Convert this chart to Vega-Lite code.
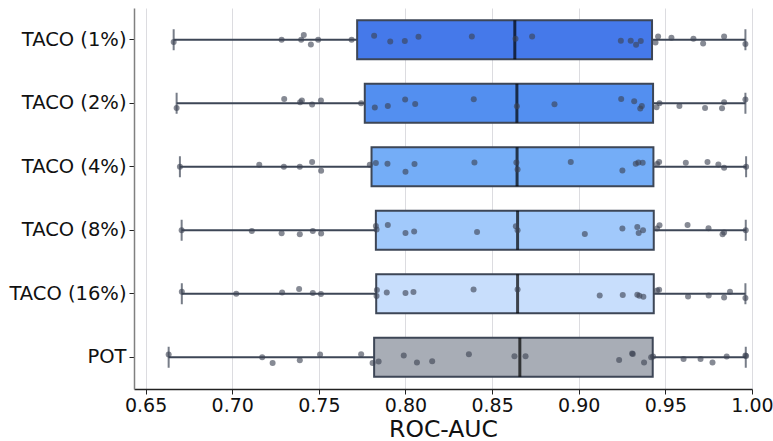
{
  "$schema": "https://vega.github.io/schema/vega-lite/v6.json",
  "width": 618,
  "height": 381,
  "autosize": {"type": "none"},
  "padding": {"left": 134, "top": 8, "right": 21, "bottom": 52},
  "background": "white",
  "config": {
    "view": {"stroke": null},
    "font": "DejaVu Sans"
  },
  "datasets": {
    "stats": [
      {"g": "TACO (1%)", "min": 0.6662, "q1": 0.7721, "med": 0.8631, "q3": 0.9423, "max": 0.9962},
      {"g": "TACO (2%)", "min": 0.6679, "q1": 0.7765, "med": 0.8643, "q3": 0.9429, "max": 0.9962},
      {"g": "TACO (4%)", "min": 0.6698, "q1": 0.7804, "med": 0.8644, "q3": 0.9431, "max": 0.9966},
      {"g": "TACO (8%)", "min": 0.6708, "q1": 0.7829, "med": 0.8647, "q3": 0.9433, "max": 0.9964},
      {"g": "TACO (16%)", "min": 0.6709, "q1": 0.7831, "med": 0.8647, "q3": 0.9433, "max": 0.9962},
      {"g": "POT", "min": 0.6633, "q1": 0.7819, "med": 0.8660, "q3": 0.9427, "max": 0.9964}
    ],
    "points": [
      {"g": "TACO (1%)", "v": 0.6662, "j": 2.3},
      {"g": "TACO (1%)", "v": 0.7285, "j": 0},
      {"g": "TACO (1%)", "v": 0.7398, "j": 0},
      {"g": "TACO (1%)", "v": 0.7413, "j": -4.7},
      {"g": "TACO (1%)", "v": 0.7454, "j": 4.7},
      {"g": "TACO (1%)", "v": 0.7496, "j": 0},
      {"g": "TACO (1%)", "v": 0.7689, "j": 0},
      {"g": "TACO (1%)", "v": 0.7819, "j": -4},
      {"g": "TACO (1%)", "v": 0.7912, "j": 1.7},
      {"g": "TACO (1%)", "v": 0.7996, "j": 1.3},
      {"g": "TACO (1%)", "v": 0.8075, "j": -3},
      {"g": "TACO (1%)", "v": 0.8383, "j": -3.3},
      {"g": "TACO (1%)", "v": 0.8635, "j": -1},
      {"g": "TACO (1%)", "v": 0.8731, "j": -3.3},
      {"g": "TACO (1%)", "v": 0.9243, "j": 1},
      {"g": "TACO (1%)", "v": 0.9300, "j": 1},
      {"g": "TACO (1%)", "v": 0.9331, "j": 5},
      {"g": "TACO (1%)", "v": 0.9358, "j": 1.3},
      {"g": "TACO (1%)", "v": 0.9443, "j": 2.7},
      {"g": "TACO (1%)", "v": 0.9458, "j": -3.3},
      {"g": "TACO (1%)", "v": 0.9535, "j": -2},
      {"g": "TACO (1%)", "v": 0.9662, "j": -1},
      {"g": "TACO (1%)", "v": 0.9718, "j": 3.7},
      {"g": "TACO (1%)", "v": 0.9839, "j": -3.3},
      {"g": "TACO (1%)", "v": 0.9962, "j": 4.3},

      {"g": "TACO (2%)", "v": 0.6679, "j": 4.7},
      {"g": "TACO (2%)", "v": 0.7300, "j": -4.3},
      {"g": "TACO (2%)", "v": 0.7392, "j": -1},
      {"g": "TACO (2%)", "v": 0.7402, "j": -2.7},
      {"g": "TACO (2%)", "v": 0.7461, "j": 1.3},
      {"g": "TACO (2%)", "v": 0.7512, "j": -2.7},
      {"g": "TACO (2%)", "v": 0.7744, "j": 0},
      {"g": "TACO (2%)", "v": 0.7823, "j": 4.3},
      {"g": "TACO (2%)", "v": 0.7898, "j": 2.7},
      {"g": "TACO (2%)", "v": 0.7998, "j": -3.7},
      {"g": "TACO (2%)", "v": 0.8056, "j": 0.7},
      {"g": "TACO (2%)", "v": 0.8394, "j": -4},
      {"g": "TACO (2%)", "v": 0.8643, "j": 3},
      {"g": "TACO (2%)", "v": 0.8860, "j": 1},
      {"g": "TACO (2%)", "v": 0.9245, "j": -4.3},
      {"g": "TACO (2%)", "v": 0.9320, "j": -2},
      {"g": "TACO (2%)", "v": 0.9355, "j": 5.3},
      {"g": "TACO (2%)", "v": 0.9364, "j": 2.7},
      {"g": "TACO (2%)", "v": 0.9449, "j": 4},
      {"g": "TACO (2%)", "v": 0.9466, "j": 0},
      {"g": "TACO (2%)", "v": 0.9581, "j": 2.7},
      {"g": "TACO (2%)", "v": 0.9729, "j": 4.7},
      {"g": "TACO (2%)", "v": 0.9827, "j": 5},
      {"g": "TACO (2%)", "v": 0.9839, "j": -1},
      {"g": "TACO (2%)", "v": 0.9962, "j": -3.7},

      {"g": "TACO (4%)", "v": 0.6698, "j": 0},
      {"g": "TACO (4%)", "v": 0.7156, "j": -2},
      {"g": "TACO (4%)", "v": 0.7298, "j": 0},
      {"g": "TACO (4%)", "v": 0.7390, "j": 0},
      {"g": "TACO (4%)", "v": 0.7461, "j": -4.7},
      {"g": "TACO (4%)", "v": 0.7513, "j": 4},
      {"g": "TACO (4%)", "v": 0.7794, "j": -2},
      {"g": "TACO (4%)", "v": 0.7829, "j": -3.7},
      {"g": "TACO (4%)", "v": 0.7896, "j": -3},
      {"g": "TACO (4%)", "v": 0.8000, "j": 5},
      {"g": "TACO (4%)", "v": 0.8052, "j": -2.7},
      {"g": "TACO (4%)", "v": 0.8398, "j": -4.3},
      {"g": "TACO (4%)", "v": 0.8640, "j": -4.3},
      {"g": "TACO (4%)", "v": 0.8647, "j": 2.7},
      {"g": "TACO (4%)", "v": 0.8954, "j": -4.7},
      {"g": "TACO (4%)", "v": 0.9252, "j": 3.7},
      {"g": "TACO (4%)", "v": 0.9329, "j": -3},
      {"g": "TACO (4%)", "v": 0.9344, "j": -4.3},
      {"g": "TACO (4%)", "v": 0.9369, "j": -4},
      {"g": "TACO (4%)", "v": 0.9452, "j": -2.7},
      {"g": "TACO (4%)", "v": 0.9464, "j": -4.7},
      {"g": "TACO (4%)", "v": 0.9618, "j": -4},
      {"g": "TACO (4%)", "v": 0.9743, "j": -4.7},
      {"g": "TACO (4%)", "v": 0.9806, "j": -2.3},
      {"g": "TACO (4%)", "v": 0.9839, "j": 1},
      {"g": "TACO (4%)", "v": 0.9966, "j": 0},

      {"g": "TACO (8%)", "v": 0.6708, "j": 0},
      {"g": "TACO (8%)", "v": 0.7113, "j": 0.7},
      {"g": "TACO (8%)", "v": 0.7285, "j": 3},
      {"g": "TACO (8%)", "v": 0.7390, "j": 4},
      {"g": "TACO (8%)", "v": 0.7465, "j": 0.7},
      {"g": "TACO (8%)", "v": 0.7513, "j": 3.3},
      {"g": "TACO (8%)", "v": 0.7829, "j": -4.3},
      {"g": "TACO (8%)", "v": 0.7833, "j": -0.7},
      {"g": "TACO (8%)", "v": 0.7898, "j": -5.3},
      {"g": "TACO (8%)", "v": 0.8000, "j": 2.7},
      {"g": "TACO (8%)", "v": 0.8050, "j": 1.3},
      {"g": "TACO (8%)", "v": 0.8413, "j": 1.7},
      {"g": "TACO (8%)", "v": 0.8637, "j": -4},
      {"g": "TACO (8%)", "v": 0.8647, "j": 0},
      {"g": "TACO (8%)", "v": 0.9035, "j": 3.7},
      {"g": "TACO (8%)", "v": 0.9252, "j": -1.7},
      {"g": "TACO (8%)", "v": 0.9338, "j": -3.3},
      {"g": "TACO (8%)", "v": 0.9346, "j": 2.7},
      {"g": "TACO (8%)", "v": 0.9371, "j": 0},
      {"g": "TACO (8%)", "v": 0.9452, "j": -1.7},
      {"g": "TACO (8%)", "v": 0.9466, "j": -5},
      {"g": "TACO (8%)", "v": 0.9628, "j": -5.3},
      {"g": "TACO (8%)", "v": 0.9749, "j": -2},
      {"g": "TACO (8%)", "v": 0.9830, "j": 4},
      {"g": "TACO (8%)", "v": 0.9839, "j": 2.3},
      {"g": "TACO (8%)", "v": 0.9964, "j": 0},

      {"g": "TACO (16%)", "v": 0.6709, "j": -2},
      {"g": "TACO (16%)", "v": 0.7023, "j": 0},
      {"g": "TACO (16%)", "v": 0.7288, "j": -1.3},
      {"g": "TACO (16%)", "v": 0.7386, "j": -4.7},
      {"g": "TACO (16%)", "v": 0.7465, "j": -0.7},
      {"g": "TACO (16%)", "v": 0.7512, "j": 0.3},
      {"g": "TACO (16%)", "v": 0.7833, "j": 2.3},
      {"g": "TACO (16%)", "v": 0.7835, "j": -3.7},
      {"g": "TACO (16%)", "v": 0.7892, "j": -1.3},
      {"g": "TACO (16%)", "v": 0.8000, "j": -0.7},
      {"g": "TACO (16%)", "v": 0.8046, "j": -1.7},
      {"g": "TACO (16%)", "v": 0.8393, "j": -4.3},
      {"g": "TACO (16%)", "v": 0.8647, "j": -4.3},
      {"g": "TACO (16%)", "v": 0.9121, "j": 1.7},
      {"g": "TACO (16%)", "v": 0.9254, "j": 1.3},
      {"g": "TACO (16%)", "v": 0.9338, "j": 1},
      {"g": "TACO (16%)", "v": 0.9350, "j": 2},
      {"g": "TACO (16%)", "v": 0.9373, "j": 3},
      {"g": "TACO (16%)", "v": 0.9452, "j": -3.3},
      {"g": "TACO (16%)", "v": 0.9464, "j": -4},
      {"g": "TACO (16%)", "v": 0.9631, "j": 2.7},
      {"g": "TACO (16%)", "v": 0.9750, "j": 1.7},
      {"g": "TACO (16%)", "v": 0.9839, "j": 3.7},
      {"g": "TACO (16%)", "v": 0.9873, "j": -2},
      {"g": "TACO (16%)", "v": 0.9962, "j": 4.3},

      {"g": "POT", "v": 0.6633, "j": -2.7},
      {"g": "POT", "v": 0.7173, "j": 0},
      {"g": "POT", "v": 0.7233, "j": 5.7},
      {"g": "POT", "v": 0.7390, "j": 3},
      {"g": "POT", "v": 0.7507, "j": -2.7},
      {"g": "POT", "v": 0.7744, "j": -3},
      {"g": "POT", "v": 0.7810, "j": 5.7},
      {"g": "POT", "v": 0.7845, "j": 4.3},
      {"g": "POT", "v": 0.7990, "j": -1.7},
      {"g": "POT", "v": 0.8066, "j": 5.3},
      {"g": "POT", "v": 0.8154, "j": 4},
      {"g": "POT", "v": 0.8366, "j": -3},
      {"g": "POT", "v": 0.8629, "j": -1},
      {"g": "POT", "v": 0.8693, "j": -1},
      {"g": "POT", "v": 0.9233, "j": 2.7},
      {"g": "POT", "v": 0.9308, "j": -3.7},
      {"g": "POT", "v": 0.9312, "j": -3.3},
      {"g": "POT", "v": 0.9377, "j": 5.3},
      {"g": "POT", "v": 0.9418, "j": 0},
      {"g": "POT", "v": 0.9429, "j": -0.7},
      {"g": "POT", "v": 0.9605, "j": 1.7},
      {"g": "POT", "v": 0.9703, "j": 1.7},
      {"g": "POT", "v": 0.9772, "j": 5.3},
      {"g": "POT", "v": 0.9854, "j": -0.7},
      {"g": "POT", "v": 0.9962, "j": -1.7},
      {"g": "POT", "v": 0.9966, "j": -1.3}
    ]
  },
  "encoding": {
    "y": {
      "field": "g",
      "type": "nominal",
      "sort": ["TACO (1%)", "TACO (2%)", "TACO (4%)", "TACO (8%)", "TACO (16%)", "POT"],
      "scale": {"domain": ["TACO (1%)", "TACO (2%)", "TACO (4%)", "TACO (8%)", "TACO (16%)", "POT"], "paddingInner": 0, "paddingOuter": 0},
      "axis": {
        "title": null,
        "labelFontSize": 19.5,
        "labelColor": "#111111",
        "labelPadding": 3,
        "tickSize": 5,
        "tickColor": "#222222",
        "tickWidth": 1,
        "domainColor": "#808080",
        "domainWidth": 1.5,
        "grid": false
      }
    }
  },
  "resolve": {"scale": {"yOffset": "independent"}},
  "layer": [
    {
      "data": {"name": "stats"},
      "mark": {"type": "rule", "stroke": "#3d4656", "strokeWidth": 2},
      "encoding": {
        "x": {
          "field": "min",
          "type": "quantitative",
          "scale": {"domain": [0.6433, 1.0], "nice": false, "zero": false},
          "axis": {
            "title": "ROC-AUC",
            "titleFontSize": 23.5,
            "titleFontWeight": "normal",
            "titleColor": "#111111",
            "titlePadding": 2,
            "values": [0.65, 0.7, 0.75, 0.8, 0.85, 0.9, 0.95, 1.0],
            "format": ".2f",
            "labelFontSize": 19,
            "labelColor": "#111111",
            "labelPadding": 2,
            "labelFlush": false,
            "tickSize": 5,
            "tickColor": "#222222",
            "domainColor": "#222222",
            "domainWidth": 1.3,
            "grid": true,
            "gridColor": "#dcdce0",
            "gridWidth": 1
          }
        },
        "x2": {"field": "max"}
      }
    },
    {
      "data": {"name": "stats"},
      "mark": {"type": "tick", "color": "#3d4656", "thickness": 2, "size": 21},
      "encoding": {"x": {"field": "min", "type": "quantitative"}}
    },
    {
      "data": {"name": "stats"},
      "mark": {"type": "tick", "color": "#3d4656", "thickness": 2, "size": 21},
      "encoding": {"x": {"field": "max", "type": "quantitative"}}
    },
    {
      "data": {"name": "stats"},
      "mark": {"type": "bar", "height": 39, "stroke": "#3d4656", "strokeWidth": 2, "fillOpacity": 1},
      "encoding": {
        "x": {"field": "q1", "type": "quantitative"},
        "x2": {"field": "q3"},
        "fill": {
          "field": "g",
          "type": "nominal",
          "scale": {
            "domain": ["TACO (1%)", "TACO (2%)", "TACO (4%)", "TACO (8%)", "TACO (16%)", "POT"],
            "range": ["#4579ea", "#538ff0", "#74adf7", "#a1c9fb", "#c8defc", "#a8adb6"]
          },
          "legend": null
        }
      }
    },
    {
      "data": {"name": "stats"},
      "mark": {"type": "tick", "color": "#000000", "thickness": 3, "size": 39},
      "encoding": {"x": {"field": "med", "type": "quantitative"}}
    },
    {
      "data": {"name": "points"},
      "mark": {"type": "circle", "size": 36, "color": "#3b4252", "opacity": 0.62},
      "encoding": {
        "x": {"field": "v", "type": "quantitative"},
        "yOffset": {"field": "j", "type": "quantitative", "scale": {"domain": [-31.75, 31.75]}}
      }
    }
  ]
}
